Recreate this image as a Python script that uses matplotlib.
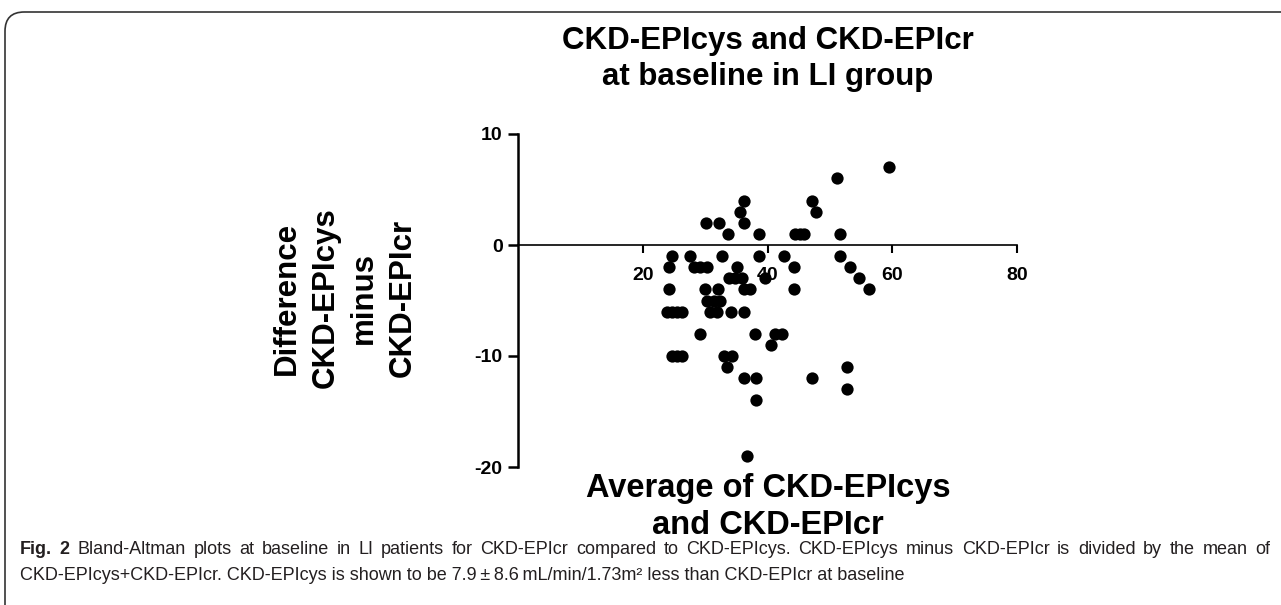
import matplotlib.pyplot as plt
from matplotlib.patches import FancyBboxPatch

# average of the two estimates (x) and their difference (y)
avg = [51.2, 59.5, 36.2, 47.2, 35.6, 47.8, 30.1, 32.2, 36.2, 33.6,
       38.7, 44.4, 45.2, 45.9, 51.6, 24.7, 27.5, 32.7, 38.7, 42.7,
       51.6, 24.2, 28.2, 29.2, 30.3, 35.1, 44.2, 53.2, 33.8, 34.8,
       35.9, 39.6, 54.7, 24.2, 29.9, 32.0, 36.2, 37.2, 44.2, 56.2,
       30.3, 31.4, 32.4, 23.9, 24.7, 25.5, 26.3, 30.8, 31.9, 34.1,
       36.3, 29.1, 38.0, 41.2, 42.3, 40.6, 24.7, 25.5, 26.3, 33.0,
       34.3, 33.5, 52.7, 36.2, 38.2, 47.1, 52.7, 38.2, 36.7]
diff = [6, 7, 4, 4, 3, 3, 2, 2, 2, 1,
        1, 1, 1, 1, 1, -1, -1, -1, -1, -1,
        -1, -2, -2, -2, -2, -2, -2, -2, -3, -3,
        -3, -3, -3, -4, -4, -4, -4, -4, -4, -4,
        -5, -5, -5, -6, -6, -6, -6, -6, -6, -6,
        -6, -8, -8, -8, -8, -9, -10, -10, -10, -10,
        -10, -11, -11, -12, -12, -12, -13, -14, -19]

x_ticks = [20, 40, 60, 80]
y_ticks = [-20, -10, 0, 10]

title = "CKD-EPIcys and CKD-EPIcr\nat baseline in LI group"
y_label = "Difference\nCKD-EPIcys\nminus\nCKD-EPIcr"
x_label = "Average of CKD-EPIcys\nand CKD-EPIcr"
caption_bold = "Fig. 2"
caption_1 = ("Bland-Altman plots at baseline in LI patients for CKD-EPIcr compared to "
             "CKD-EPIcys. CKD-EPIcys minus CKD-EPIcr is divided by the mean of")
caption_2 = ("CKD-EPIcys+CKD-EPIcr. CKD-EPIcys is shown to be 7.9\u2009\u00b1\u20098.6\u2009mL/min/1.73m\u00b2 "
             "less than CKD-EPIcr at baseline")

W, H = 1281, 605
plt.rcParams['font.family'] = ['Liberation Sans', 'DejaVu Sans']
plt.rcParams['axes.unicode_minus'] = False

fig = plt.figure(figsize=(W / 100, H / 100), dpi=100)

# rounded frame around the figure panel
frame = FancyBboxPatch((5 / W, -0.1), 1.1, 1 - 12 / H + 0.1,
                       boxstyle="round,pad=0,rounding_size=0.015",
                       transform=fig.transFigure, fill=False,
                       edgecolor='#333333', linewidth=1.2, mutation_aspect=W / H)
fig.patches.append(frame)

ax = fig.add_axes([518 / W, 1 - 467 / H, 499 / W, 333 / H])
ax.scatter(avg, diff, s=78, color='black', zorder=3, clip_on=False, linewidths=0)

ax.set_xlim(0, 80)
ax.set_ylim(-20, 10)
ax.spines['top'].set_visible(False)
ax.spines['right'].set_visible(False)
ax.spines['bottom'].set_position(('data', 0))
ax.spines['left'].set_linewidth(1.8)
ax.spines['bottom'].set_linewidth(1.2)

ax.set_xticks(x_ticks)
ax.set_yticks(y_ticks)
ax.tick_params(axis='y', length=7, width=1.8, pad=4, labelsize=14)
ax.tick_params(axis='x', length=6, width=1.5, pad=10, labelsize=14)
for lab in ax.get_xticklabels() + ax.get_yticklabels():
    lab.set_fontweight('bold')

fig.text(768 / W, 1 - 59 / H, title, ha='center', va='center',
         fontsize=22.5, fontweight='bold', linespacing=1.25)
fig.text(345 / W, 1 - 298 / H, y_label, ha='center', va='center', rotation=90,
         fontsize=22.5, fontweight='bold', linespacing=1.38, multialignment='center')
fig.text(768 / W, 1 - 507 / H, x_label, ha='center', va='center',
         fontsize=23.5, fontweight='bold', linespacing=1.28)

# caption, first line justified between x=20 and x=1270
cap_color = '#231f20'
cap_size = 13
renderer = fig.canvas.get_renderer()
words = [(w, 'bold') for w in caption_bold.split()] + \
        [(w, 'normal') for w in caption_1.split()]
texts = [fig.text(0, 1 - 554 / H, w, ha='left', va='baseline', fontsize=cap_size,
                  fontweight=fw, color=cap_color) for w, fw in words]
widths = [t.get_window_extent(renderer).width for t in texts]
gap = (1250 - sum(widths)) / (len(texts) - 1)
xpos = 20
for t, wd in zip(texts, widths):
    t.set_x(xpos / W)
    xpos += wd + gap

fig.text(20 / W, 1 - 580 / H, caption_2, ha='left', va='baseline',
         fontsize=cap_size, color=cap_color)

fig.savefig('out.png', dpi=100)
